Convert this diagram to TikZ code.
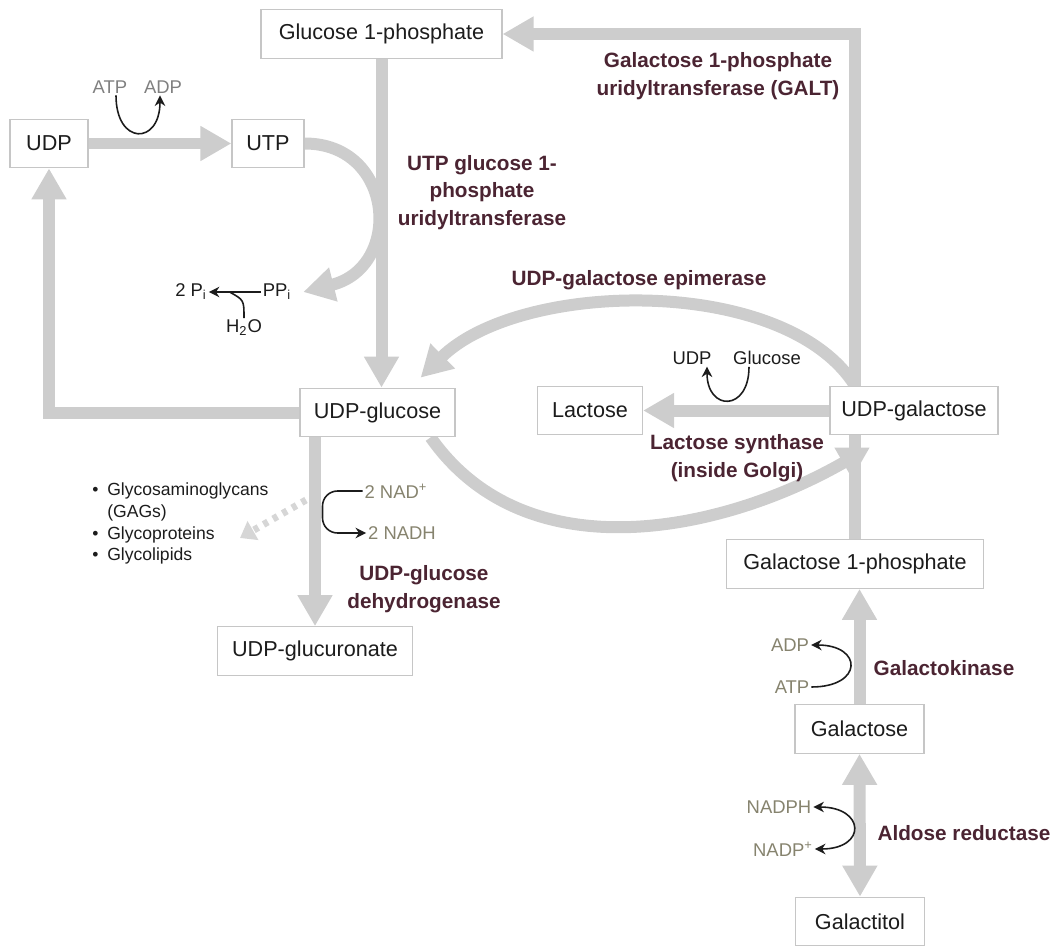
\documentclass[tikz,border=0pt]{standalone}
\usepackage{fontspec}
\setmainfont{Liberation Sans}
\usepackage{tikz}
\usetikzlibrary{arrows.meta,calc,positioning}
\definecolor{ink}{HTML}{1C1C1C}
\definecolor{fluxgray}{HTML}{CDCDCD}
\definecolor{boxgray}{HTML}{C6C6C6}
\definecolor{dotgray}{HTML}{D6D6D6}
\definecolor{enzred}{HTML}{4B2432}
\definecolor{cofolive}{HTML}{86836E}
\definecolor{cofgray}{HTML}{808080}
\pgfdeclarelayer{bg}
\pgfsetlayers{bg,main}
\tikzset{
  fluxarr/.style={-{Triangle[length=0.62cm,width=0.66cm]},line width=0.24cm,color=fluxgray},
  fluxboth/.style={{Triangle[length=0.62cm,width=0.66cm]}-{Triangle[length=0.62cm,width=0.66cm]},line width=0.24cm,color=fluxgray},
  dotarr/.style={-{Triangle[length=0.3cm,width=0.42cm]},line width=0.14cm,color=dotgray,dash pattern=on 0.1cm off 0.12cm},
  cofarr/.style={->,line width=0.9pt,color=ink},
  metcard/.style={draw=boxgray,fill=white,line width=0.7pt,minimum height=0.97cm,inner sep=0pt,text=ink,font=\fontsize{12.3}{14}\selectfont},
  enzlabel/.style={align=center,inner sep=1pt,text=enzred,font=\bfseries\fontsize{11.8}{15.8}\selectfont},
  coflabel/.style={inner sep=1pt,text=cofolive,font=\fontsize{10.5}{12}\selectfont},
  listtext/.style={inner sep=0pt,text=ink,font=\fontsize{10}{12.3}\selectfont}
}
\begin{document}
\begin{tikzpicture}[x=0.02cm,y=-0.02cm,>={Stealth[length=6pt,width=6pt]}]
  \useasboundingbox (0,0) rectangle (1052,946);
  \node[metcard,minimum width=4.82cm] (g1p) at (381.5,34) {Glucose 1-phosphate};
  \node[metcard,minimum width=1.56cm] (udp) at (49,143.5) {UDP};
  \node[metcard,minimum width=1.44cm] (utp) at (268,143.5) {UTP};
  \node[metcard,minimum width=3.1cm] (udpglc) at (377.5,412.5) {UDP-glucose};
  \node[metcard,minimum width=3.9cm] (udpgla) at (315,651) {UDP-glucuronate};
  \node[metcard,minimum width=2.1cm] (lac) at (590,410.5) {Lactose};
  \node[metcard,minimum width=3.36cm] (udpgal) at (914,410.5) {UDP-galactose};
  \node[metcard,minimum width=5.14cm] (gal1p) at (855,564) {Galactose 1-phosphate};
  \node[metcard,minimum width=2.58cm] (gal) at (859.5,729) {Galactose};
  \node[metcard,minimum width=2.58cm] (galol) at (860,921.5) {Galactitol};

  \node[enzlabel] (galt) at (718,76) {Galactose 1-phosphate\\uridyltransferase (GALT)};
  \node[enzlabel] (ugp) at (482,192.5) {UTP glucose 1-\\phosphate\\uridyltransferase};
  \node[enzlabel] (gale) at (639,280) {UDP-galactose epimerase};
  \node[enzlabel] (lacs) at (737,458) {Lactose synthase\\(inside Golgi)};
  \node[enzlabel] (ugdh) at (424,589) {UDP-glucose\\dehydrogenase};
  \node[enzlabel] (galk) at (944,668) {Galactokinase};
  \node[enzlabel] (akr) at (964,833) {Aldose reductase};

  \node[coflabel,text=cofgray] (atpa) at (110,87) {ATP};
  \node[coflabel,text=cofgray] (adpa) at (163,87) {ADP};
  \node[coflabel,text=ink] (pitwo) at (191,292) {2 P\textsubscript{i}};
  \node[coflabel,text=ink] (ppi) at (277,292) {PP\textsubscript{i}};
  \node[coflabel,text=ink] (water) at (244,328) {H\textsubscript{2}O};
  \node[coflabel,text=ink] (udpout) at (692,358) {UDP};
  \node[coflabel,text=ink] (glcin) at (767,358) {Glucose};
  \node[coflabel] (nadox) at (396,491) {2 NAD\textsuperscript{+}};
  \node[coflabel] (nadred) at (402,533) {2 NADH};
  \node[coflabel] (adpb) at (790,645) {ADP};
  \node[coflabel] (atpb) at (792,687) {ATP};
  \node[coflabel] (nadph) at (779,807) {NADPH};
  \node[coflabel] (nadpox) at (783,849) {NADP\textsuperscript{+}};

  \node[listtext,anchor=west] (gags) at (92,524) {\begin{tabular}{@{}l@{\hspace{5pt}}l@{}}
    \textbullet & Glycosaminoglycans\\ & (GAGs)\\ \textbullet & Glycoproteins\\ \textbullet & Glycolipids
  \end{tabular}};
  \coordinate (gagfork) at (306,500);
  \coordinate (gagtip) at (240,538);

  \begin{pgfonlayer}{bg}
    \draw[fluxarr] (udp) -- (utp);
    \draw[fluxarr] (utp.east) .. controls +(90,0) and +(100,-25) .. ([xshift=0.2cm]ppi.east);
    \draw[fluxarr] (g1p.south) -- (g1p.south |- udpglc.north);
    \draw[fluxarr] (udpglc.west) -| (udp.south);
    \draw[fluxarr] (udpgla.north |- udpglc.south) -- (udpgla.north);
    \draw[fluxarr] (gal1p.north) |- (g1p.east);
    \draw[fluxarr] (udpgal.west) -- (lac.east);
    \draw[fluxarr] (gal1p.north |- udpgal.north) .. controls +(-70,-111) and +(100,-98) .. ([shift={(-35,-10)}]udpglc.north east);
    \draw[fluxarr] ([xshift=-0.5cm]udpglc.south east) .. controls +(97,138) and +(-144,83) .. ([shift={(-44,12)}]udpgal.south);
    \draw[fluxarr] (gal.north) -- (gal.north |- gal1p.south);
    \draw[fluxboth] (gal.south) -- (galol.north);
    \draw[dotarr] (gagfork) -- (gagtip);
  \end{pgfonlayer}

  \draw[cofarr] ([xshift=0.12cm]atpa.south) .. controls +(0,50) and +(0,50) .. ([xshift=-0.06cm]adpa.south);
  \draw[cofarr] (ppi.west) -- (pitwo.east);
  \draw[ink,line width=0.9pt] (water.north) .. controls +(0,-18) .. ($(pitwo.east)!0.4!(ppi.west)$);
  \draw[cofarr] ([xshift=-0.36cm]glcin.south) .. controls +(0,45) and +(0,45) .. ([xshift=0.3cm]udpout.south);
  \draw[cofarr,rounded corners=0.3cm] (nadox.west) -- ++(-40,0) |- (nadred.west);
  \draw[cofarr] (atpb.east) .. controls +(52,0) and +(52,0) .. (adpb.east);
  \draw[cofarr,<->] (nadph.east) .. controls +(52,0) and +(52,0) .. (nadpox.east);
\end{tikzpicture}
\end{document}
